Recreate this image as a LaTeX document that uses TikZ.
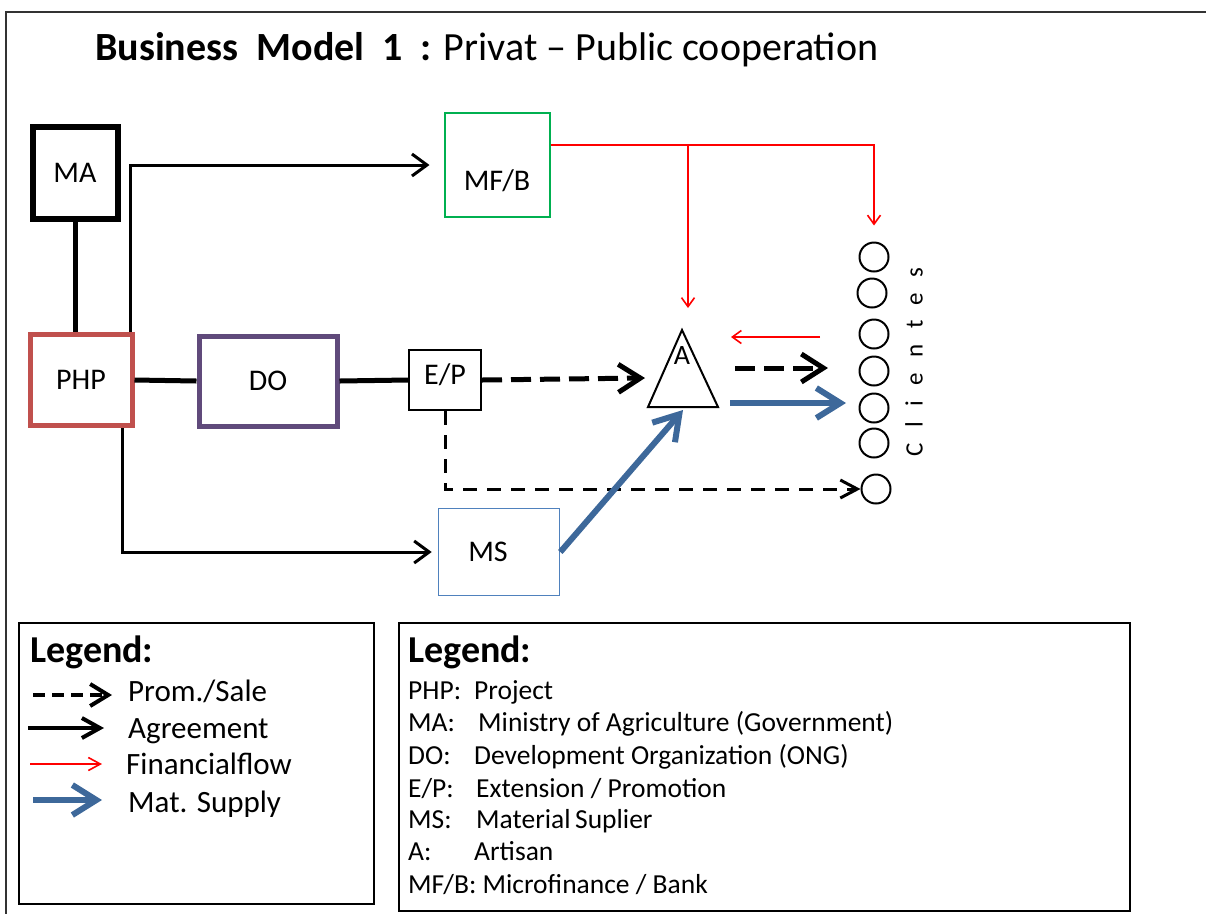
\documentclass[tikz,border=0pt]{standalone}
\usepackage{fontspec}
\setmainfont{Carlito}
\usetikzlibrary{arrows.meta}
\definecolor{phpred}{RGB}{192,80,77}
\definecolor{dopurple}{RGB}{96,74,123}
\definecolor{mfgreen}{RGB}{0,176,80}
\definecolor{msblue}{RGB}{79,129,189}
\definecolor{supblue}{RGB}{61,104,154}
\definecolor{finred}{RGB}{255,0,0}
\tikzset{
  box/.style={draw, rectangle, inner sep=0pt, font=\fontsize{30}{34}\selectfont},
  client/.style={draw, circle, line width=2pt, minimum size=29pt, inner sep=0pt},
  agree/.style={line width=3pt, -{Straight Barb[length=15pt,width=22pt]}},
  plainlink/.style={line width=5pt},
  promo/.style={line width=5pt, dash pattern=on 20pt off 9pt, -{Straight Barb[length=22pt,width=28pt]}},
  promothin/.style={line width=3pt, dash pattern=on 14pt off 10pt, -{Straight Barb[length=17pt,width=18pt]}},
  fin/.style={finred, line width=1.6pt, -{Straight Barb[length=9pt,width=13pt]}},
  supply/.style={supblue, line width=6pt, -{Straight Barb[length=24pt,width=30pt]}},
  legtext/.style={anchor=base west, inner sep=0pt, font=\fontsize{31}{35}\selectfont},
  legtitle/.style={anchor=west, inner sep=0pt, font=\fontsize{38}{42}\selectfont\bfseries},
  deftext/.style={anchor=base west, inner sep=0pt, font=\fontsize{27.5}{31}\selectfont},
}
\begin{document}
\begin{tikzpicture}[x=1pt,y=-1pt]
\useasboundingbox (0,0) rectangle (1206,914);
% outer frame (top and left)
\draw[line width=2.5pt, black!80] (5,12) -- (1206,12);
\draw[line width=2.5pt, black!80] (6,12) -- (6,914);

% title
\node[anchor=west, inner sep=0pt, font=\fontsize{40}{44}\selectfont] (title) at (95,50)
  {\textbf{Business\ \ Model\ \ 1\ \ :} Privat -- Public cooperation};

% boxes
\node[box, line width=6pt, minimum width=85pt, minimum height=92pt] (MA) at (75,173) {MA};
\node[box, draw=phpred, line width=5pt, minimum width=102pt, minimum height=91pt] (PHP) at (81,380) {PHP};
\node[box, draw=dopurple, line width=5pt, minimum width=138pt, minimum height=90pt] (DO) at (268,381) {DO};
\node[box, line width=2pt, minimum width=72pt, minimum height=60pt] (EP) at (445,380) {\raisebox{-4pt}[0pt][0pt]{E/P}};
\node[box, draw=mfgreen, line width=2pt, minimum width=105pt, minimum height=104pt] (MFB) at (497,165) {\raisebox{-25pt}[0pt][0pt]{MF/B}};
\node[box, draw=msblue, line width=1.6pt, minimum width=121pt, minimum height=87pt] (MS) at (499,552) {\hspace*{-22pt}MS};

% artisan triangle
\draw[line width=2pt, line join=miter] (648,407) -- (718,407) -- (682,330) -- cycle;
\node[inner sep=0pt, font=\fontsize{28}{32}\selectfont] (A) at (682,356) {A};
\coordinate (Aleft) at (645,378);
\coordinate (Abase) at (683,410);
\coordinate (Atop) at (688,308);

% clients
\node[client] (c1) at (874,257) {};
\node[client] (c2) at (872,293) {};
\node[client] (c3) at (874,334) {};
\node[client] (c4) at (874,371) {};
\node[client] (c5) at (874,408) {};
\node[client] (c6) at (874,443) {};
\node[client] (c7) at (876,489) {};
\node[rotate=90, inner sep=0pt, font=\fontsize{25}{29}\selectfont\addfontfeature{LetterSpace=62}] (cl) at (914,362) {Clientes};

% connectors
\draw[plainlink] (MA.south) -- (MA.south |- PHP.north);
\draw[agree] ([xshift=-4pt]PHP.north east) |- ([xshift=-14pt]MFB.west);
\draw[plainlink] (PHP.east) -- (DO.west);
\draw[plainlink] (DO.east) -- (EP.west);
\draw[promo] (EP.east) -- (Aleft);
\draw[promothin] (EP.south) |- (c7.west);
\draw[agree] ([xshift=-12pt]PHP.south east) |- ([xshift=-6pt]MS.west);
\draw[supply] (MS.east) -- (Abase);

\coordinate (d1) at (735,368); \coordinate (d2) at (828,368);
\coordinate (b1) at (730,403); \coordinate (b2) at (846,403);
\coordinate (r1) at (820,337); \coordinate (r2) at (731,337);
\draw[promo] (d1) -- (d2);
\draw[supply] (b1) -- (b2);
\draw[fin] (r1) -- (r2);

\coordinate (fsplit) at (688,145);
\draw[fin] ([yshift=20pt]MFB.east) -| ([yshift=16pt]c1.north);
\draw[fin] (fsplit) -- (Atop);

% left legend
\node[draw, line width=2pt, minimum width=355pt, minimum height=281pt, anchor=north west, inner sep=0pt] (leg1) at (18,622) {};
\node[legtitle] (leg1t) at (30,652) {Legend:};
\coordinate (l1a) at (33,695); \coordinate (l1b) at (112,695);
\coordinate (l2a) at (28,728); \coordinate (l2b) at (104,728);
\coordinate (l3a) at (30,764); \coordinate (l3b) at (102,764);
\coordinate (l4a) at (33,800); \coordinate (l4b) at (102,800);
\draw[line width=4pt, dash pattern=on 12pt off 7pt, -{Straight Barb[length=18pt,width=22pt]}] (l1a) -- (l1b);
\draw[line width=4pt, -{Straight Barb[length=18pt,width=20pt]}] (l2a) -- (l2b);
\draw[finred, line width=1.6pt, -{Straight Barb[length=12pt,width=13pt]}] (l3a) -- (l3b);
\draw[supply] (l4a) -- (l4b);
\node[legtext] (p1) at (128,701) {Prom./Sale};
\node[legtext] (p2) at (128,738) {Agreement};
\node[legtext] (p3) at (126,774) {Financialflow};
\node[legtext] (p4) at (128,812) {Mat. Supply};

% right legend
\node[draw, line width=2pt, minimum width=731pt, minimum height=288pt, anchor=north west, inner sep=0pt] (leg2) at (398,622) {};
\node[legtitle] (leg2t) at (408,652) {Legend:};
\node[deftext] (k1) at (408,699) {PHP:};  \node[deftext] (v1) at (474,699) {Project};
\node[deftext] (k2) at (408,731) {MA:};   \node[deftext] (v2) at (478,731) {Ministry of Agriculture (Government)};
\node[deftext] (k3) at (408,764) {DO:};   \node[deftext] (v3) at (474,764) {Development Organization (ONG)};
\node[deftext] (k4) at (408,797) {E/P:};  \node[deftext] (v4) at (476,797) {Extension / Promotion};
\node[deftext] (k5) at (408,828) {MS:};   \node[deftext] (v5) at (476,828) {Material\,Suplier};
\node[deftext] (k6) at (408,860) {A:};    \node[deftext] (v6) at (474,860) {Artisan};
\node[deftext] (k7) at (408,893) {MF/B: Microfinance / Bank};
\end{tikzpicture}
\end{document}
